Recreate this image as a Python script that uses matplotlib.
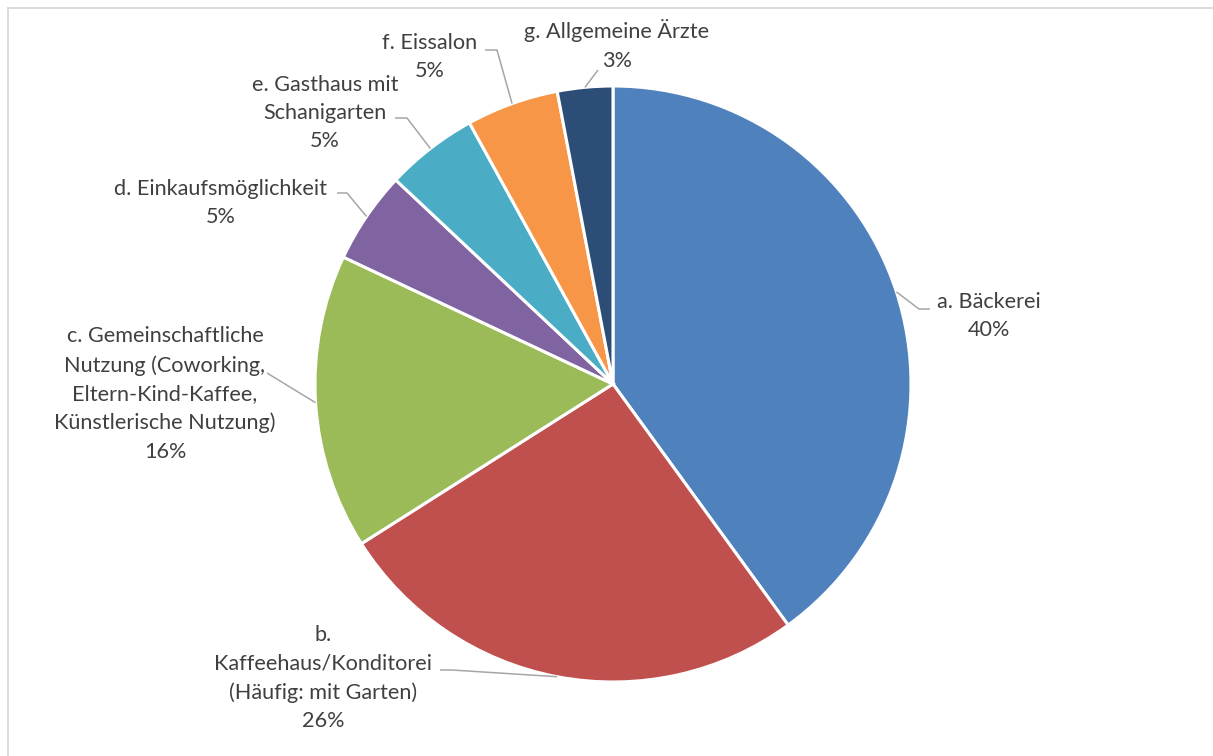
import numpy as np
import matplotlib.pyplot as plt
from matplotlib.lines import Line2D

# Anteile je Nutzung (Prozent)
labels = ['a. Bäckerei',
          'b.\nKaffeehaus/Konditorei\n(Häufig: mit Garten)',
          'c. Gemeinschaftliche\nNutzung (Coworking,\nEltern-Kind-Kaffee,\nKünstlerische Nutzung)',
          'd. Einkaufsmöglichkeit',
          'e. Gasthaus mit\nSchanigarten',
          'f. Eissalon',
          'g. Allgemeine Ärzte']
shares = [40, 26, 16, 5, 5, 5, 3]
colors = ['#4F81BD', '#C0504D', '#9BBB59', '#8064A2', '#4BACC6', '#F79646', '#2C4D75']

# label block centres and leader elbows, in pixels (y measured from top)
text_pos = [(989, 316), (323, 678), (165, 394), (221, 203), (325, 113), (430, 57), (617, 45)]
elbows = [[(930, 309), (919, 309)],
          [(440, 670), (452, 670)],
          [(267, 373)],
          [(337, 193), (347, 193)],
          [(395, 118), (407, 118)],
          [(485, 50), (497, 50)],
          [(598, 70)]]

W, H = 1213, 756
cx, cy, R = 613, 384, 298

plt.rcParams['font.family'] = ['Lato', 'DejaVu Sans']
fig = plt.figure(figsize=(W / 100, H / 100), dpi=100)
ax = fig.add_axes([0, 0, 1, 1])

wedges, _ = ax.pie(shares, colors=colors, startangle=90, counterclock=False,
                   center=(cx, H - cy), radius=R,
                   wedgeprops=dict(edgecolor='white', linewidth=2.2), frame=True)
ax.set_xlim(0, W)
ax.set_ylim(0, H)
ax.axis('off')

total = sum(shares)
for w, lab, s, (tx, ty), el in zip(wedges, labels, shares, text_pos, elbows):
    ax.text(tx, H - ty, f'{lab}\n{s / total * 100:.0f}%', ha='center', va='center',
            fontsize=15.6, color='#404040', linespacing=1.53)
    mid = np.deg2rad((w.theta1 + w.theta2) / 2)
    ex = cx + R * np.cos(mid)
    ey = (H - cy) + R * np.sin(mid)
    xs = [p[0] for p in el] + [ex]
    ys = [H - p[1] for p in el] + [ey]
    ax.plot(xs, ys, color='#A6A6A6', lw=1.1, solid_capstyle='butt')

# chart frame
fig.add_artist(Line2D([7.5 / W, 1], [1 - 7.5 / H, 1 - 7.5 / H], color='#D9D9D9', lw=1.3))
fig.add_artist(Line2D([7.5 / W, 7.5 / W], [0, 1 - 7.5 / H], color='#D9D9D9', lw=1.3))

fig.savefig('out.png', dpi=100)
